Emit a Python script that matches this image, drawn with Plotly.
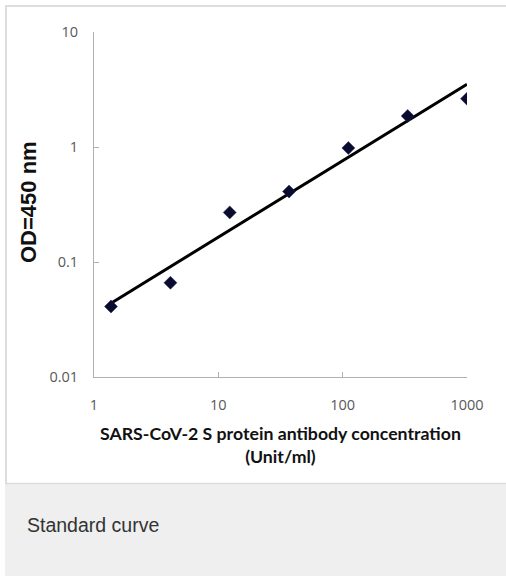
import numpy as np
import plotly.graph_objects as go

# Data
conc = [1.37, 4.12, 12.35, 37.04, 111.1, 333.3, 1000]        # Unit/ml
od450 = [0.041, 0.066, 0.27, 0.41, 0.98, 1.86, 2.63]         # OD at 450 nm
x_ticks = [1, 10, 100, 1000]
x_tick_text = ["1", "10", "100", "1000"]
y_ticks = [0.01, 0.1, 1, 10]
y_tick_text = ["0.01", "0.1", "1", "10"]

# power-law trend line (least squares on log-log)
slope, icpt = np.polyfit(np.log10(conc), np.log10(od450), 1)
fit_x = [conc[0], conc[-1]]
fit_y = [10 ** (icpt + slope * np.log10(v)) for v in fit_x]

W, H = 506, 576
L, R, T, B = 94, 39, 32, 199
PW, PH = W - L - R, H - T - B


def px(x):
    return (x - L) / PW


def py(y):
    return (H - B - y) / PH


fig = go.Figure()
fig.add_trace(go.Scatter(x=fit_x, y=fit_y, mode="lines",
                         line=dict(color="black", width=3), hoverinfo="skip"))
fig.add_trace(go.Scatter(x=conc, y=od450, mode="markers",
                         marker=dict(symbol="diamond", size=10, color="#0b0b2e",
                                     line=dict(width=0.5, color="#1a2a6a"))))

axis_font = dict(family="Open Sans, sans-serif", size=14.5, color="#595959")
fig.update_xaxes(type="log", range=[0, 3], tickvals=x_ticks, ticktext=x_tick_text,
                 showgrid=False, zeroline=False, showline=True, linecolor="#b0b0b0",
                 linewidth=1, ticks="inside", ticklen=5, tickcolor="#b0b0b0",
                 tickfont=axis_font, ticklabelstandoff=15)
fig.update_yaxes(type="log", range=[-2, 1], tickvals=y_ticks, ticktext=y_tick_text,
                 showgrid=False, zeroline=False, showline=True, linecolor="#b0b0b0",
                 linewidth=1, ticks="inside", ticklen=5, tickcolor="#b0b0b0",
                 tickfont=axis_font, ticklabelstandoff=12)

shapes = [
    dict(type="rect", xref="paper", yref="paper", layer="below",
         x0=px(5), x1=px(506), y0=py(483), y1=py(576),
         line=dict(width=0), fillcolor="#eeefee"),
    dict(type="line", xref="paper", yref="paper", layer="below",
         x0=px(5), x1=px(506), y0=py(6), y1=py(6),
         line=dict(color="#dddddd", width=2)),
    dict(type="line", xref="paper", yref="paper", layer="below",
         x0=px(6), x1=px(6), y0=py(5), y1=py(484),
         line=dict(color="#dddddd", width=2)),
    dict(type="line", xref="paper", yref="paper", layer="below",
         x0=px(5), x1=px(506), y0=py(483.5), y1=py(483.5),
         line=dict(color="#dcdcdc", width=1.5)),
]

annotations = [
    dict(text="<b>OD=450 nm</b>", xref="paper", yref="paper", x=px(28), y=py(202),
         xanchor="center", yanchor="middle", textangle=-90, showarrow=False,
         font=dict(family="Liberation Sans, Arial", size=22, color="#111111")),
    dict(text="<b>SARS-CoV-2 S protein antibody concentration<br>(Unit/ml)</b>",
         xref="paper", yref="paper", x=0.5, y=py(445), xanchor="center", yanchor="middle",
         showarrow=False,
         font=dict(family="Lato, sans-serif", size=17.7, color="#111111")),
    dict(text="Standard curve", xref="paper", yref="paper", x=px(25), y=py(525),
         xanchor="left", yanchor="middle", showarrow=False,
         font=dict(family="Liberation Sans, Arial", size=19.5, color="#333333")),
]

fig.update_layout(width=W, height=H, margin=dict(l=L, r=R, t=T, b=B),
                  paper_bgcolor="white", plot_bgcolor="white",
                  showlegend=False, shapes=shapes, annotations=annotations)
fig.write_html(
    "out.html", config={"displayModeBar": False},
    post_script=("document.documentElement.style.overflow='hidden';"
                 "document.body.style.margin='0';document.body.style.overflow='hidden';"))
